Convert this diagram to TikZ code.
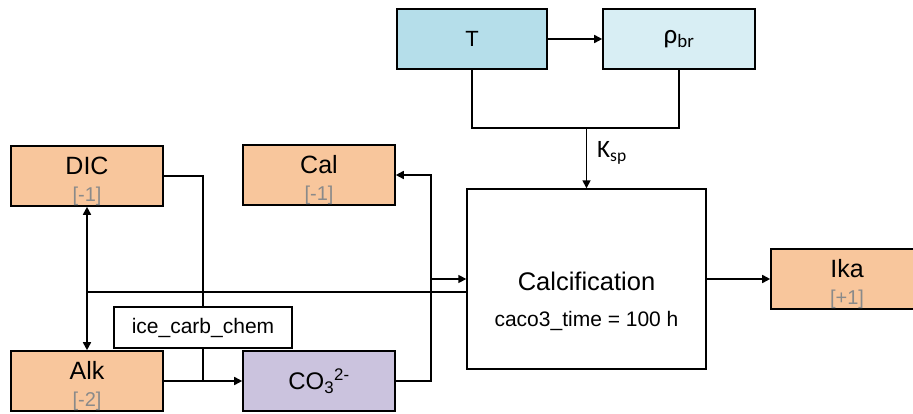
\documentclass[tikz,border=0pt]{standalone}
\usepackage{fontspec}
\setmainfont{Liberation Sans}
\newfontfamily\calfont{Carlito}
\usetikzlibrary{arrows.meta, positioning}
\definecolor{clrorange}{HTML}{F8C69C}
\definecolor{clrpurple}{HTML}{CBC3DE}
\definecolor{clrblue}{HTML}{B5DEEA}
\definecolor{clrpale}{HTML}{D8EEF4}
\definecolor{clrtag}{HTML}{8A8A8A}
\newcommand{\chargetag}[1]{{\fontsize{20}{20}\selectfont\color{clrtag}#1}}
\newcommand{\toplift}{\rule{0pt}{28pt}}

\begin{document}
\begin{tikzpicture}[
            x=1pt, y=-1pt,
            var box/.style={draw=black, line width=1.6pt, minimum width=152pt, minimum height=60pt, inner sep=0pt, align=center, font=\fontsize{25}{26}\selectfont},
            proc box/.style={draw=black, line width=1.4pt, fill=white, inner sep=0pt, align=center},
            link line/.style={line width=1.6pt, black},
            arrow line/.style={link line, -{Triangle[length=8pt, width=8pt]}},
        ]

        \useasboundingbox (0,0) rectangle (913,414);

        % Temperature and brine density
        \node[var box, fill=clrblue, minimum width=150pt, font=\fontsize{22}{24}\selectfont] (T) at (472,39) {\raisebox{-4pt}{T}};
        \node[var box, fill=clrpale] (rho) at (679,39) {\raisebox{-9pt}{\calfont\fontsize{27}{27}\selectfont ρ\textsubscript{br}}};

        % Tracers
        \node[var box, fill=clrorange] (dic) at (87,176) {\toplift DIC\\[1pt]\chargetag{[-1]}};
        \node[var box, fill=clrorange] (cal) at (319,175) {\toplift Cal\\[1pt]\chargetag{[-1]}};
        \node[var box, fill=clrorange] (alk) at (87,381) {\toplift Alk\\[1pt]\chargetag{[-2]}};
        \node[var box, fill=clrpurple, font=\fontsize{24}{26}\selectfont] (co3) at (319,381) {\raisebox{-3pt}{CO\textsubscript{3}\textsuperscript{2-}}};
        \node[var box, fill=clrorange] (ika) at (847,279) {\toplift Ika\\[1pt]\chargetag{[+1]}};

        % Calcification process
        \node[proc box, minimum width=239pt, minimum height=180pt] (calc) at (586.5,279) {};
        \node[font=\fontsize{25.5}{26}\selectfont, inner sep=0pt] (calctitle) at ([yshift=-2pt]calc.center) {Calcification};
        \node[font=\fontsize{21}{22}\selectfont, inner sep=0pt] (calctime) at ([yshift=-42pt]calc.center) {caco3\_time = 100 h};

        % Helper points
        \coordinate (ksp) at (586.5,128);
        \coordinate (join) at (203,381);
        \coordinate (split) at (431,279);
        \coordinate (fb) at (87,292);

        % Links
        \draw[arrow line] (T) -- (rho);
        \draw[link line] (T.south) |- (ksp) -| (rho.south);
        \draw[arrow line] (ksp) -- (calc.north);
        \node[anchor=west, inner sep=0pt] (ksplabel) at (597,153) {\calfont\fontsize{25}{25}\selectfont K\textsubscript{sp}};

        \draw[link line] (dic.east) -| (join);
        \draw[arrow line] (alk.east) -- (co3.west);
        \draw[arrow line] (co3.east) -| (split) |- (cal.east);
        \draw[arrow line] (split) -- (calc.west);

        \draw[link line] (calc.west |- fb) -- (fb);
        \draw[arrow line] (fb) -- (dic.south);
        \draw[arrow line] (fb) -- (alk.north);

        \draw[arrow line] (calc) -- (ika);

        % Chemistry module
        \node[proc box, minimum width=178pt, minimum height=41pt, font=\fontsize{21}{22}\selectfont] (ice) at (203,327.5) {ice\_carb\_chem};

\end{tikzpicture}
\end{document}
